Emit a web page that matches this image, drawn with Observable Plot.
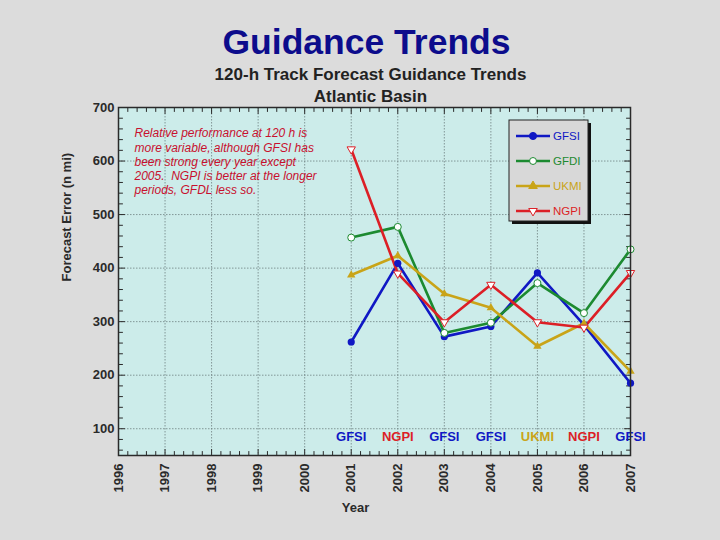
<!DOCTYPE html>
<html><head><meta charset="utf-8">
<script src="https://cdn.jsdelivr.net/npm/d3@7"></script>
<script src="https://cdn.jsdelivr.net/npm/@observablehq/plot@0.6"></script>
<style>
html,body{margin:0;padding:0;background:#dcdcdc;}
#chart svg{display:block;}
</style></head><body><div id="chart"></div>
<script>
// ---- data ----
const years = [2001, 2002, 2003, 2004, 2005, 2006, 2007];
const models = ["GFSI", "GFDI", "UKMI", "NGPI"];
const colors = ["#1018c4", "#1c8a30", "#c9a418", "#dc1f26"];
const gfsi = [262, 409, 272, 291, 391, 294, 185];
const gfdi = [457, 477, 279, 298, 372, 316, 435];
const ukmi = [387, 423, 352, 326, 254, 297, 207];
const ngpi = [622, 390, 299, 369, 299, 289, 391];
const axisYears = [1996, 1997, 1998, 1999, 2000, 2001, 2002, 2003, 2004, 2005, 2006, 2007];
const yTicks = [100, 200, 300, 400, 500, 600, 700];
const bestModel = ["GFSI", "NGPI", "GFSI", "GFSI", "UKMI", "NGPI", "GFSI"];
const noteLines = [
  "Relative performance at 120 h is",
  "more variable, although GFSI has",
  "been strong every year except",
  "2005.\u00a0 NGPI is better at the longer",
  "periods, GFDL less so."
];
const title = "Guidance Trends";
const subtitle1 = "120-h Track Forecast Guidance Trends";
const subtitle2 = "Atlantic Basin";
const xLabel = "Year";
const yLabel = "Forecast Error (n mi)";

// ---- build table ----
const seriesValues = [gfsi, gfdi, ukmi, ngpi];
const data = models.flatMap((m, i) => years.map((yr, j) => ({model: m, year: yr, value: seriesValues[i][j]})));
const best = years.map((yr, j) => ({year: yr, model: bestModel[j]}));
const yMinor = d3.range(60, 701, 20).filter(v => v % 100 !== 0);
const xMinor = d3.range(0, 56).filter(i => i % 5 !== 0).map(i => 1996 + i / 5);
const tickShape = {draw(ctx, l) { ctx.moveTo(0, 0); ctx.lineTo(0, -l); }};
const font = "Liberation Sans, Arial, sans-serif";
const ink = "#2a2a2a";
const of = m => data.filter(d => d.model === m);

function ticksV(arr, anchor, rot, len) {
  return Plot.vectorY(arr, {y: d => d, frameAnchor: anchor, rotate: rot, length: len, anchor: "start", shape: tickShape, stroke: ink, strokeWidth: 1});
}
function ticksH(arr, anchor, rot, len) {
  return Plot.vectorX(arr, {x: d => d, frameAnchor: anchor, rotate: rot, length: len, anchor: "start", shape: tickShape, stroke: ink, strokeWidth: 1});
}

const chart = Plot.plot({
  width: 720, height: 540,
  marginLeft: 118, marginRight: 90, marginTop: 107, marginBottom: 85,
  style: {fontFamily: font, background: "#dcdcdc", overflow: "visible"},
  x: {domain: [1996, 2007], axis: null},
  y: {domain: [50, 700], axis: null},
  color: {domain: models, range: colors},
  marks: [
    Plot.frame({fill: "#ccecea", stroke: "none"}),
    Plot.gridX({ticks: axisYears, stroke: "#6f8282", strokeOpacity: 0.8, strokeDasharray: "1.5,1.5"}),
    Plot.gridY({ticks: yTicks, stroke: "#6f8282", strokeOpacity: 0.8, strokeDasharray: "1.5,1.5"}),
    ticksV(yMinor, "left", 90, 4), ticksV(yTicks, "left", 90, 6),
    ticksV(yMinor, "right", -90, 4), ticksV(yTicks, "right", -90, 6),
    ticksH(xMinor, "bottom", 0, 4), ticksH(axisYears, "bottom", 0, 6),
    ticksH(xMinor, "top", 180, 4), ticksH(axisYears, "top", 180, 6),
    Plot.axisY({ticks: yTicks, tickSize: 0, tickPadding: 4, fontSize: 13, fontWeight: "bold", fill: ink, label: null}),
    Plot.axisX({ticks: axisYears, tickFormat: d => String(d), tickRotate: -90, tickSize: 0, tickPadding: 8, fontSize: 13, fontWeight: "bold", fill: ink, label: null}),
    Plot.line(data, {x: "year", y: "value", z: "model", stroke: "model", strokeWidth: 2.6}),
    Plot.dot(of("GFSI"), {x: "year", y: "value", fill: "model", r: 3.6, symbol: "circle"}),
    Plot.dot(of("GFDI"), {x: "year", y: "value", fill: "white", stroke: "model", strokeWidth: 1, r: 3.5, symbol: "circle"}),
    Plot.dot(of("UKMI"), {x: "year", y: "value", fill: "model", r: 3.1, symbol: "triangle"}),
    Plot.dot(of("NGPI"), {x: "year", y: "value", fill: "white", stroke: "model", strokeWidth: 1, r: 3.1, symbol: "triangle", rotate: 180}),
    Plot.text(best, {x: "year", text: "model", fill: "model", frameAnchor: "bottom", dy: -15, fontSize: 13, fontWeight: "bold"}),
    Plot.text([noteLines.join("\n")], {frameAnchor: "top-left", dx: 16, dy: 20, lineAnchor: "top", textAnchor: "start", fontStyle: "italic", fontSize: 12, lineHeight: 1.17, fill: "#c8102e"}),
    Plot.frame({stroke: ink, strokeWidth: 1.5}),
    Plot.text([title], {frameAnchor: "top", dx: -8, dy: -65, lineAnchor: "middle", fontSize: 35.5, fontWeight: "bold", fill: "#0c0c8c"}),
    Plot.text([subtitle1], {frameAnchor: "top", dx: -4, dy: -33, lineAnchor: "middle", fontSize: 17, fontWeight: "bold", fill: "#222"}),
    Plot.text([subtitle2], {frameAnchor: "top", dx: -4, dy: -11, lineAnchor: "middle", fontSize: 17, fontWeight: "bold", fill: "#222"}),
    Plot.text([yLabel], {frameAnchor: "left", dx: -52, rotate: -90, fontSize: 13, fontWeight: "bold", fill: ink}),
    Plot.text([xLabel], {frameAnchor: "bottom", dx: -19, dy: 52, lineAnchor: "middle", fontSize: 13, fontWeight: "bold", fill: ink})
  ]
});

// ---- legend box ----
const svg = d3.select(chart);
const lg = svg.append("g").attr("font-family", font).attr("text-anchor", "start");
lg.append("rect").attr("x", 512).attr("y", 123).attr("width", 79).attr("height", 101).attr("fill", "#111");
lg.append("rect").attr("x", 509).attr("y", 120).attr("width", 79).attr("height", 101).attr("fill", "#d8d8d8").attr("stroke", "#222").attr("stroke-width", 1);
const legendSym = [
  {type: d3.symbolCircle, size: 40, fill: true, rot: 0},
  {type: d3.symbolCircle, size: 38, fill: false, rot: 0},
  {type: d3.symbolTriangle, size: 32, fill: true, rot: 0},
  {type: d3.symbolTriangle, size: 32, fill: false, rot: 180}
];
models.forEach((m, i) => {
  const cy = 136 + i * 25;
  const g = lg.append("g");
  g.append("line").attr("x1", 516).attr("x2", 550).attr("y1", cy).attr("y2", cy).attr("stroke", colors[i]).attr("stroke-width", 2.4);
  const s = legendSym[i];
  g.append("path").attr("d", d3.symbol(s.type, s.size)())
    .attr("transform", `translate(533,${cy}) rotate(${s.rot})`)
    .attr("fill", s.fill ? colors[i] : "white").attr("stroke", colors[i]).attr("stroke-width", 1);
  g.append("text").attr("x", 553).attr("y", cy).attr("dy", "0.36em").attr("font-size", 11.5).attr("fill", colors[i]).text(m);
});

document.getElementById("chart").appendChild(chart);
</script>
</body></html>
